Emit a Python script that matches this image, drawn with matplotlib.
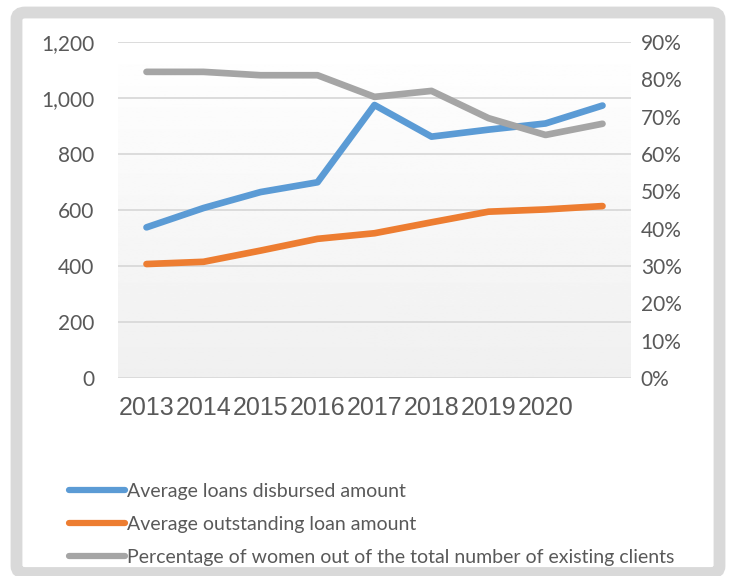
import matplotlib
matplotlib.use('Agg')
import matplotlib.pyplot as plt
import numpy as np
from matplotlib.patches import FancyBboxPatch
from matplotlib.ticker import FuncFormatter, PercentFormatter

plt.rcParams['font.family'] = ['Lato', 'DejaVu Sans']

# data
years = ['2013', '2014', '2015', '2016', '2017', '2018', '2019', '2020', '']
loans_disbursed = [538, 607, 664, 699, 975, 862, 887, 909, 973]
outstanding = [407, 415, 455, 497, 517, 556, 594, 602, 614]
women_share = [0.820, 0.820, 0.811, 0.811, 0.753, 0.769, 0.696, 0.651, 0.681]

labels = ['Average loans disbursed amount',
          'Average outstanding loan amount',
          'Percentage of women out of the total number of existing clients']

txt = '#595959'
W, H = 733, 576

fig = plt.figure(figsize=(W / 100, H / 100), dpi=100)

# outer chart frame
frame = FancyBboxPatch((16.5 / W, 1 - 573 / H), (719.5 - 16.5) / W, (573 - 12.5) / H,
                       boxstyle='round,pad=0,rounding_size=0.012',
                       transform=fig.transFigure, facecolor='white',
                       edgecolor='#d9d9d9', linewidth=8.5, zorder=-5)
fig.patches.append(frame)

ax = fig.add_axes([118 / W, 1 - 378 / H, (631 - 118) / W, (378 - 42) / H])
ax.set_facecolor('none')

# light vertical gradient in the plot area
grad = np.linspace(1.0, 0.94, 256).reshape(-1, 1)
ax.imshow(grad, extent=[0, 1, 0, 1], transform=ax.transAxes, cmap='gray',
          vmin=0, vmax=1, aspect='auto', zorder=0)

x = np.arange(len(years))
ax.set_xlim(-0.5, len(years) - 0.5)
ax.set_ylim(0, 1200)
ax.set_yticks(range(0, 1400, 200))
ax.yaxis.set_major_formatter(FuncFormatter(lambda v, p: f'{int(v):,}'))
ax.grid(axis='y', color='#d9d9d9', linewidth=1.3, zorder=1)
ax.set_axisbelow(True)
for s in ax.spines.values():
  s.set_visible(False)
ax.tick_params(axis='both', length=0, colors=txt)
ax.tick_params(axis='y', labelsize=15, pad=17)
ax.set_xticks(x)
ax.set_xticklabels(years, fontsize=18, family=['Liberation Sans', 'DejaVu Sans'])
ax.tick_params(axis='x', pad=13)

l1, = ax.plot(x, loans_disbursed, color='#5b9bd5', lw=4.8, solid_capstyle='round',
              solid_joinstyle='round', zorder=3)
l2, = ax.plot(x, outstanding, color='#ed7d31', lw=4.8, solid_capstyle='round',
              solid_joinstyle='round', zorder=3)

ax2 = ax.twinx()
ax2.set_ylim(0, 0.9)
ax2.set_yticks(np.arange(0, 0.95, 0.1))
ax2.yaxis.set_major_formatter(PercentFormatter(1.0, decimals=0))
for s in ax2.spines.values():
  s.set_visible(False)
ax2.tick_params(axis='y', length=0, colors=txt, labelsize=15, pad=7)
l3, = ax2.plot(x, women_share, color='#a5a5a5', lw=4.8, solid_capstyle='round',
               solid_joinstyle='round', zorder=3)

leg = fig.legend([l1, l2, l3], labels, loc='upper left',
                 bbox_to_anchor=(61 / W, 1 - 475 / H), frameon=False,
                 fontsize=14, handlelength=2.9, handletextpad=0.1,
                 labelspacing=0.83, borderaxespad=0)
for t in leg.get_texts():
  t.set_color(txt)
for h in leg.get_lines():
  h.set_linewidth(4.5)

fig.savefig('out.png', dpi=100)
